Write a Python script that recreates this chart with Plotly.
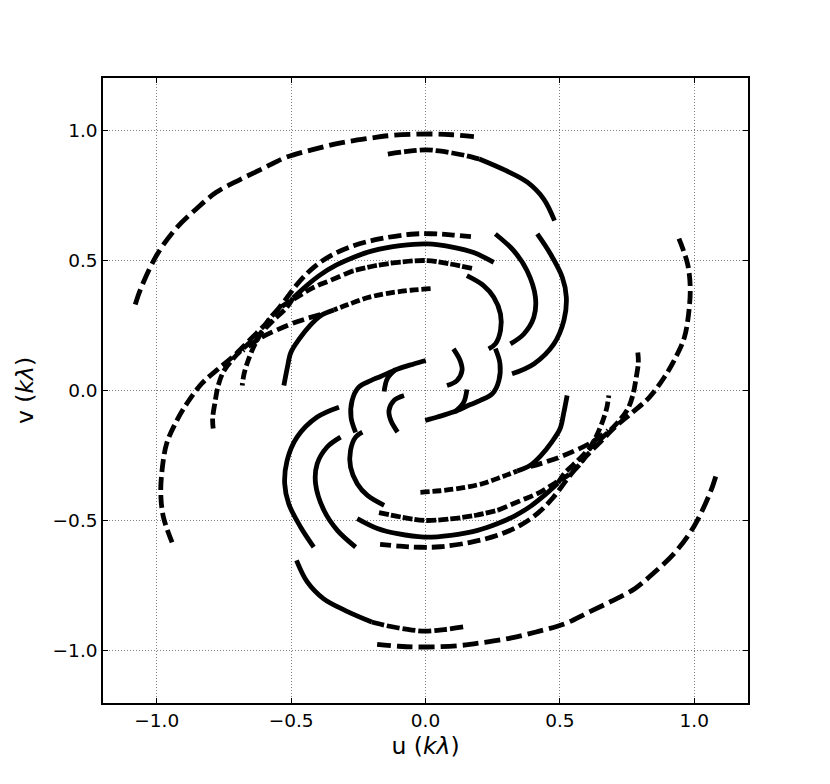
import plotly.graph_objects as go

# uv tracks (u, v in k-lambda); each track has its conjugate
a_u = [-1.08, -1.06, -1.00, -0.93, -0.85, -0.78, -0.69, -0.60, -0.52, -0.42, -0.32, -0.22, -0.12, 0.02, 0.10, 0.18]
a_v = [0.33, 0.39, 0.52, 0.62, 0.70, 0.76, 0.81, 0.855, 0.895, 0.925, 0.95, 0.967, 0.98, 0.985, 0.982, 0.975]
a2_u = [1.08, 1.06, 1.00, 0.93, 0.85, 0.78, 0.69, 0.60, 0.52, 0.42, 0.32, 0.22, 0.12, -0.02, -0.10, -0.18]
a2_v = [-0.33, -0.39, -0.52, -0.62, -0.70, -0.76, -0.81, -0.855, -0.895, -0.925, -0.95, -0.967, -0.98, -0.985, -0.982, -0.975]

b1_u = [-0.14, -0.07, 0.0, 0.05, 0.10, 0.15, 0.20]
b1_v = [0.908, 0.918, 0.924, 0.920, 0.912, 0.902, 0.889]
b2_u = [0.20, 0.30, 0.38, 0.44, 0.48]
b2_v = [0.889, 0.844, 0.799, 0.735, 0.652]
b1c_u = [0.14, 0.07, 0.0, -0.05, -0.10, -0.15, -0.20]
b1c_v = [-0.908, -0.918, -0.924, -0.920, -0.912, -0.902, -0.889]
b2c_u = [-0.20, -0.30, -0.38, -0.44, -0.48]
b2c_v = [-0.889, -0.844, -0.799, -0.735, -0.652]

c_u = [0.943, 0.975, 0.985, 0.979, 0.963, 0.931, 0.888, 0.832, 0.770, 0.708, 0.652, 0.590, 0.529, 0.476, 0.417, 0.352, 0.268, 0.167, 0.055, -0.020, -0.094, -0.169]
c_v = [0.583, 0.487, 0.395, 0.295, 0.203, 0.127, 0.050, -0.027, -0.084, -0.138, -0.196, -0.261, -0.338, -0.410, -0.472, -0.518, -0.556, -0.583, -0.600, -0.602, -0.598, -0.591]
cc_u = [-0.943, -0.975, -0.985, -0.979, -0.963, -0.931, -0.888, -0.832, -0.770, -0.708, -0.652, -0.590, -0.529, -0.476, -0.417, -0.352, -0.268, -0.167, -0.055, 0.020, 0.094, 0.169]
cc_v = [-0.583, -0.487, -0.395, -0.295, -0.203, -0.127, -0.050, 0.027, 0.084, 0.138, 0.196, 0.261, 0.338, 0.410, 0.472, 0.518, 0.556, 0.583, 0.600, 0.602, 0.598, 0.591]

t2s_u = [0.254, 0.179, 0.104, 0.005, -0.094, -0.194, -0.269, -0.331, -0.393, -0.443, -0.493]
t2s_v = [0.492, 0.530, 0.550, 0.563, 0.556, 0.537, 0.511, 0.482, 0.443, 0.402, 0.355]
t2d_u = [-0.493, -0.517, -0.567, -0.617, -0.665, -0.715, -0.752, -0.771, -0.783, -0.792, -0.790]
t2d_v = [0.355, 0.318, 0.269, 0.217, 0.174, 0.123, 0.072, 0.020, -0.044, -0.108, -0.146]
t2sc_u = [-0.254, -0.179, -0.104, -0.005, 0.094, 0.194, 0.269, 0.331, 0.393, 0.443, 0.493]
t2sc_v = [-0.492, -0.530, -0.550, -0.563, -0.556, -0.537, -0.511, -0.482, -0.443, -0.402, -0.355]
t2dc_u = [0.493, 0.517, 0.567, 0.617, 0.665, 0.715, 0.752, 0.771, 0.783, 0.792, 0.790]
t2dc_v = [-0.355, -0.318, -0.269, -0.217, -0.174, -0.123, -0.072, -0.020, 0.044, 0.108, 0.146]

t3s_u = [0.173, 0.080, 0.005, -0.094, -0.188, -0.269]
t3s_v = [0.469, 0.488, 0.499, 0.493, 0.479, 0.460]
t3d_u = [-0.269, -0.356, -0.418, -0.480, -0.540, -0.585, -0.615, -0.640, -0.660, -0.675, -0.682]
t3d_v = [0.460, 0.422, 0.395, 0.357, 0.318, 0.269, 0.215, 0.166, 0.115, 0.064, 0.019]
t3sc_u = [-0.173, -0.080, -0.005, 0.094, 0.188, 0.269]
t3sc_v = [-0.469, -0.488, -0.499, -0.493, -0.479, -0.460]
t3dc_u = [0.269, 0.356, 0.418, 0.480, 0.540, 0.585, 0.615, 0.640, 0.660, 0.675, 0.682]
t3dc_v = [-0.460, -0.422, -0.395, -0.357, -0.318, -0.269, -0.215, -0.166, -0.115, -0.064, -0.019]

s5d_u = [0.019, -0.055, -0.135, -0.214, -0.288, -0.341]
s5d_v = [0.391, 0.385, 0.374, 0.357, 0.330, 0.309]
s5s_u = [-0.341, -0.389, -0.430, -0.471, -0.501, -0.514, -0.527]
s5s_v = [0.309, 0.288, 0.249, 0.196, 0.146, 0.088, 0.019]
s5dc_u = [-0.019, 0.055, 0.135, 0.214, 0.288, 0.341]
s5dc_v = [-0.391, -0.385, -0.374, -0.357, -0.330, -0.309]
s5sc_u = [0.341, 0.389, 0.430, 0.471, 0.501, 0.514, 0.527]
s5sc_v = [-0.309, -0.288, -0.249, -0.196, -0.146, -0.088, -0.019]

k_u = [0.391, 0.478, 0.552, 0.615, 0.680]
k_v = [-0.292, -0.264, -0.233, -0.201, -0.153]
kc_u = [-0.391, -0.478, -0.552, -0.615, -0.680]
kc_v = [0.292, 0.264, 0.233, 0.201, 0.153]

r1_u = [0.260, 0.328, 0.378, 0.409, 0.403, 0.366, 0.316]
r1_v = [0.601, 0.537, 0.460, 0.358, 0.281, 0.217, 0.179]
r1c_u = [-0.260, -0.328, -0.378, -0.409, -0.403, -0.366, -0.316]
r1c_v = [-0.601, -0.537, -0.460, -0.358, -0.281, -0.217, -0.179]
r2_u = [0.416, 0.465, 0.509, 0.524, 0.515, 0.478, 0.403, 0.322]
r2_v = [0.601, 0.524, 0.435, 0.358, 0.269, 0.179, 0.102, 0.064]
r2c_u = [-0.416, -0.465, -0.509, -0.524, -0.515, -0.478, -0.403, -0.322]
r2c_v = [-0.601, -0.524, -0.435, -0.358, -0.269, -0.179, -0.102, -0.064]
r3_u = [0.154, 0.216, 0.254, 0.279, 0.279, 0.260, 0.235]
r3_v = [0.441, 0.403, 0.358, 0.294, 0.230, 0.179, 0.160]
r3c_u = [-0.154, -0.216, -0.254, -0.279, -0.279, -0.260, -0.235]
r3c_v = [-0.441, -0.403, -0.358, -0.294, -0.230, -0.179, -0.160]
r4_u = [0.260, 0.277, 0.273, 0.249, 0.204, 0.167, 0.103, 0.044, -0.001]
r4_v = [0.161, 0.104, 0.038, -0.012, -0.038, -0.054, -0.083, -0.102, -0.115]
r4c_u = [-0.260, -0.277, -0.273, -0.249, -0.204, -0.167, -0.103, -0.044, 0.001]
r4c_v = [-0.161, -0.104, -0.038, 0.012, 0.038, 0.054, 0.083, 0.102, 0.115]
r5_u = [0.104, 0.129, 0.136, 0.117, 0.080]
r5_v = [0.160, 0.115, 0.077, 0.038, 0.019]
r5c_u = [-0.104, -0.129, -0.136, -0.117, -0.080]
r5c_v = [-0.160, -0.115, -0.077, -0.038, -0.019]
e_u = [0.154, 0.142, 0.111]
e_v = [0.004, -0.046, -0.081]
ec_u = [-0.154, -0.142, -0.111]
ec_v = [-0.004, 0.046, 0.081]

tick_vals = [-1.0, -0.5, 0.0, 0.5, 1.0]
tick_text = ["\u22121.0", "\u22120.5", "0.0", "0.5", "1.0"]

tracks = [
    (a_u, a_v, "16px,6px"), (a2_u, a2_v, "16px,6px"),
    (b1_u, b1_v, "13px,3px"), (b2_u, b2_v, "solid"),
    (b1c_u, b1c_v, "13px,3px"), (b2c_u, b2c_v, "solid"),
    (c_u, c_v, "13px,5px"), (cc_u, cc_v, "13px,5px"),
    (t2s_u, t2s_v, "solid"), (t2d_u, t2d_v, "11px,4px"),
    (t2sc_u, t2sc_v, "solid"), (t2dc_u, t2dc_v, "11px,4px"),
    (t3s_u, t3s_v, "10px,2px"), (t3d_u, t3d_v, "10px,4px"),
    (t3sc_u, t3sc_v, "10px,2px"), (t3dc_u, t3dc_v, "10px,4px"),
    (s5d_u, s5d_v, "9px,3px"), (s5s_u, s5s_v, "solid"),
    (s5dc_u, s5dc_v, "9px,3px"), (s5sc_u, s5sc_v, "solid"),
    (k_u, k_v, "12px,5px"), (kc_u, kc_v, "12px,5px"),
    (r1_u, r1_v, "solid"), (r1c_u, r1c_v, "solid"),
    (r2_u, r2_v, "solid"), (r2c_u, r2c_v, "solid"),
    (r3_u, r3_v, "solid"), (r3c_u, r3c_v, "solid"),
    (r4_u, r4_v, "solid"), (r4c_u, r4c_v, "solid"),
    (r5_u, r5_v, "solid"), (r5c_u, r5c_v, "solid"),
    (e_u, e_v, "solid"), (ec_u, ec_v, "solid"),
]

fig = go.Figure()
for u, v, dash in tracks:
    fig.add_trace(go.Scatter(x=u, y=v, mode="lines", line_shape="spline",
                             line=dict(color="black", width=4.8, dash=dash),
                             showlegend=False, hoverinfo="skip"))

axis = dict(range=[-1.2, 1.2], tickvals=tick_vals, ticktext=tick_text,
            showgrid=True, gridcolor="#808080", griddash="1px,2px", gridwidth=1,
            zeroline=False, showline=True, linecolor="black", linewidth=1.5,
            mirror="ticks", ticks="inside", ticklen=5, tickcolor="black",
            tickfont=dict(size=18.5, color="black"), automargin=False)

# the page body has an 8px margin, so the figure is shrunk to sit inside the window
fig.update_layout(
    width=814, height=768,
    margin=dict(l=95, r=74, t=70, b=73),
    paper_bgcolor="white", plot_bgcolor="white",
    font=dict(family="DejaVu Sans", color="black"),
    xaxis=dict(axis, title=dict(text="u (<i>k\u03bb</i>)", font=dict(size=23.5), standoff=8)),
    yaxis=dict(axis, title=dict(text="v (<i>k\u03bb</i>)", font=dict(size=23.5), standoff=12)),
)

fig.write_html("out.html")
